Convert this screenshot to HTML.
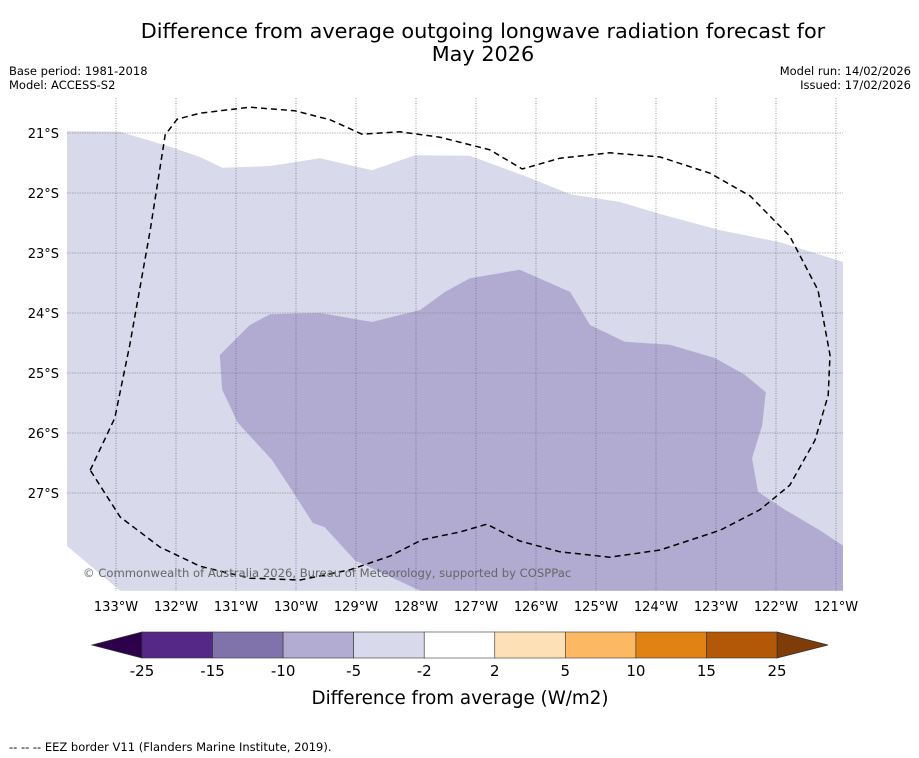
<!DOCTYPE html>
<html><head><meta charset="utf-8"><style>
body{margin:0;background:#fff;width:919px;height:758px;overflow:hidden;font-family:"Liberation Sans","DejaVu Sans",sans-serif}
svg{position:absolute;left:0;top:0}
text{font-family:"DejaVu Sans","Liberation Sans",sans-serif}
</style></head><body>
<svg id="chart" width="919" height="758">
<text x="483" y="38" font-size="20.8" text-anchor="middle">Difference from average outgoing longwave radiation forecast for</text>
<text x="483" y="61" font-size="20.8" text-anchor="middle">May 2026</text>
<text x="9" y="75" font-size="11.5">Base period: 1981-2018</text>
<text x="9" y="89" font-size="11.5">Model: ACCESS-S2</text>
<text x="911" y="75" font-size="11.5" text-anchor="end">Model run: 14/02/2026</text>
<text x="911" y="89" font-size="11.5" text-anchor="end">Issued: 17/02/2026</text>
<g id="map"></g>
<g id="cbar"></g>
<text x="9" y="751" font-size="11.5">--  --  -- EEZ border V11 (Flanders Marine Institute, 2019).</text>
</svg>
<script>
const lonTicks=[-133,-132,-131,-130,-129,-128,-127,-126,-125,-124,-123,-122,-121];
const latTicks=[-21,-22,-23,-24,-25,-26,-27];
const lightRegion=[[-133.82,-20.97],[-132.93,-20.98],[-132.10,-21.23],[-131.60,-21.40],[-131.23,-21.58],[-130.43,-21.55],[-129.60,-21.42],[-128.73,-21.62],[-128.02,-21.37],[-127.10,-21.38],[-126.10,-21.75],[-125.43,-22.02],[-124.60,-22.15],[-123.93,-22.35],[-122.93,-22.62],[-121.93,-22.82],[-120.88,-23.15],[-120.88,-28.63],[-132.93,-28.63],[-133.82,-27.88]];
const darkRegion=[[-131.27,-24.70],[-130.77,-24.20],[-130.43,-24.02],[-129.60,-24.00],[-128.73,-24.15],[-127.93,-23.95],[-127.52,-23.65],[-127.10,-23.42],[-126.27,-23.28],[-125.43,-23.65],[-125.10,-24.20],[-124.52,-24.48],[-123.77,-24.53],[-123.02,-24.75],[-122.52,-25.03],[-122.17,-25.32],[-122.23,-25.87],[-122.40,-26.42],[-122.30,-26.98],[-121.85,-27.28],[-121.27,-27.62],[-120.88,-27.88],[-120.88,-28.63],[-127.93,-28.63],[-129.02,-28.12],[-129.52,-27.57],[-129.72,-27.50],[-130.02,-27.03],[-130.40,-26.45],[-130.97,-25.83],[-131.23,-25.28]];
const eez=[[-133.43,-26.62],[-133.02,-25.75],[-132.77,-24.53],[-132.43,-22.62],[-132.18,-21.03],[-131.98,-20.77],[-131.60,-20.67],[-130.77,-20.57],[-130.02,-20.63],[-129.43,-20.78],[-128.90,-21.02],[-128.27,-20.98],[-127.60,-21.07],[-126.77,-21.28],[-126.23,-21.60],[-125.60,-21.42],[-124.77,-21.33],[-123.93,-21.40],[-123.10,-21.67],[-122.43,-22.05],[-121.77,-22.72],[-121.30,-23.62],[-121.10,-24.70],[-121.13,-25.37],[-121.35,-26.12],[-121.77,-26.87],[-122.27,-27.28],[-122.93,-27.62],[-123.93,-27.95],[-124.77,-28.07],[-125.60,-27.98],[-126.27,-27.80],[-126.82,-27.52],[-127.27,-27.65],[-127.90,-27.78],[-128.43,-28.05],[-129.10,-28.28],[-129.93,-28.45],[-130.77,-28.42],[-131.60,-28.22],[-132.27,-27.90],[-132.93,-27.40]];
const cbarLevels=[-25,-15,-10,-5,-2,2,5,10,15,25];
const cbarColors=["#552887","#8073ac","#b2abd2","#d8daeb","#ffffff","#fee0b6","#fdb863","#e08214","#b35806"];
const NS="http://www.w3.org/2000/svg";
const X=lon=>116+(lon+133)*60, Y=lat=>133+(-21-lat)*60;
function mk(tag,attrs,parent,text){const e=document.createElementNS(NS,tag);for(const k in attrs)e.setAttribute(k,attrs[k]);if(text!==undefined)e.textContent=text;parent.appendChild(e);return e;}
const map=document.getElementById('map');
const clip=mk('clipPath',{id:'mc'},map);mk('rect',{x:67,y:98,width:776,height:493},clip);
const g=mk('g',{'clip-path':'url(#mc)'},map);
const pts=a=>a.map(p=>X(p[0]).toFixed(1)+','+Y(p[1]).toFixed(1)).join(' ');
const l=mk('polygon',{points:pts(lightRegion),fill:'#d8d9ea'},g);


const d=mk('polygon',{points:pts(darkRegion),fill:'#b1abd2'},g);


lonTicks.forEach(v=>{
 const ln=mk('line',{x1:X(v),x2:X(v),y1:98,y2:591,stroke:'#55557a',"stroke-width":0.6,"stroke-dasharray":"1,1.5"},g);
 
 
 const t=mk('text',{x:X(v),y:611,"font-size":13,"text-anchor":"middle"},map,Math.abs(v)+'°W');
 
 
});
latTicks.forEach(v=>{
 const ln=mk('line',{x1:67,x2:843,y1:Y(v),y2:Y(v),stroke:'#777',"stroke-width":0.6,"stroke-dasharray":"1.5,1"},g);
 
 
 const t=mk('text',{x:59,y:Y(v)+5,"font-size":13,"text-anchor":"end"},map,Math.abs(v)+'°S');
 
 
});
const e=mk('polygon',{points:pts(eez),fill:'none',stroke:'#000',"stroke-width":1.5,"stroke-dasharray":"6,4"},map);


const c=mk('text',{x:83,y:577,"font-size":11.6,fill:'#666'},map,'© Commonwealth of Australia 2026, Bureau of Meteorology, supported by COSPPac');


const cb=document.getElementById('cbar');
const x0=142,x1=777,y0=632,h=26,n=cbarColors.length,w=(x1-x0)/n;
const lt=mk('polygon',{points:`${x0},${y0} ${x0},${y0+h} 92,${y0+h/2}`,fill:'#2d004b',stroke:'#333',"stroke-width":0.8},cb);


const rt=mk('polygon',{points:`${x1},${y0} ${x1},${y0+h} 828,${y0+h/2}`,fill:'#7f3b08',stroke:'#333',"stroke-width":0.8},cb);


cbarColors.forEach((col,i)=>{
 const r=mk('rect',{x:x0+i*w,y:y0,width:w,height:h,fill:col,stroke:'#333',"stroke-width":0.6},cb);
 
 
});
cbarLevels.forEach((v,i)=>{
 const t=mk('text',{x:x0+i*w,y:676,"font-size":15,"text-anchor":"middle"},cb,String(v));
 
 
});
const ct=mk('text',{x:460,y:704,"font-size":18.3,"text-anchor":"middle"},cb,'Difference from average (W/m2)');


</script>
</body></html>
